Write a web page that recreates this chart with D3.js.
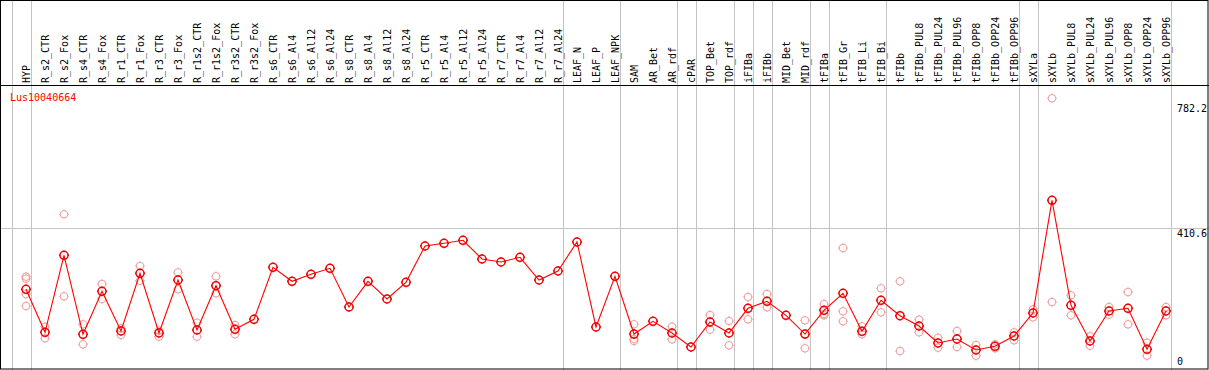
<!DOCTYPE html>
<html>
<head>
<meta charset="utf-8">
<script src="https://cdn.jsdelivr.net/npm/d3@7"></script>
<style>
  body { margin: 0; background: #fff; }
  svg text { font-family: "DejaVu Sans Mono", monospace; font-size: 10px; }
</style>
</head>
<body>
<div class="svg-content"></div>
<script>
const geneId = "Lus10040664";

const samples = ["HYP", "R_s2_CTR", "R_s2_Fox", "R_s4_CTR", "R_s4_Fox", "R_r1_CTR", "R_r1_Fox",
  "R_r3_CTR", "R_r3_Fox", "R_r1s2_CTR", "R_r1s2_Fox", "R_r3s2_CTR", "R_r3s2_Fox",
  "R_s6_CTR", "R_s6_Al4", "R_s6_Al12", "R_s6_Al24", "R_s8_CTR", "R_s8_Al4", "R_s8_Al12", "R_s8_Al24",
  "R_r5_CTR", "R_r5_Al4", "R_r5_Al12", "R_r5_Al24", "R_r7_CTR", "R_r7_Al4", "R_r7_Al12", "R_r7_Al24",
  "LEAF_N", "LEAF_P", "LEAF_NPK", "SAM", "AR_Bet", "AR_rdf", "cPAR", "TOP_Bet", "TOP_rdf",
  "iFIBa", "iFIBb", "MID_Bet", "MID_rdf", "tFIBa", "tFIB_Gr", "tFIB_Li", "tFIB_Bi", "tFIBb",
  "tFIBb_PUL8", "tFIBb_PUL24", "tFIBb_PUL96", "tFIBb_OPP8", "tFIBb_OPP24", "tFIBb_OPP96",
  "sXYLa", "sXYLb", "sXYLb_PUL8", "sXYLb_PUL24", "sXYLb_PUL96", "sXYLb_OPP8", "sXYLb_OPP24", "sXYLb_OPP96"];

// mean expression per sample
const means = [236.1, 113.2, 333.3, 107.5, 230.4, 116.9, 281.9, 111.2, 262.7, 119.8, 246.4, 121.8, 150.4,
  299.0, 259.0, 279.0, 296.2, 185.5, 259.0, 208.4, 256.1,
  359.9, 367.6, 376.2, 322.8, 314.2, 327.6, 262.7, 288.5,
  371.4, 128.4, 273.3, 108.3, 144.7, 111.2, 71.2, 142.7, 111.2,
  181.8, 201.8, 161.8, 108.3, 176.1, 224.7, 116.1, 204.7, 160.7,
  131.2, 82.6, 94.1, 62.6, 73.2, 102.6,
  168.4, 490.6, 190.4, 88.3, 174.1, 181.8, 64.6, 174.1];

// individual replicates per sample (empty where none are shown)
const replicates = [
  [272.2, 266.4, 222.7, 188.4], [129.2, 96.1], [450.5, 216.1], [136.1, 78.9], [251.3, 208.4],
  [124.6, 105.5], [302.7, 260.7], [117.8, 100.6], [284.7, 236.1], [140.7, 100.6], [273.3, 224.7],
  [134.1, 107.5], [],
  [], [], [], [], [], [], [], [],
  [], [], [], [], [], [], [], [],
  [], [], [], [136.1, 94.1, 88.3], [], [129.2, 93.2], [], [162.7, 120.6], [145.5, 76.0],
  [214.1, 150.4], [222.7, 184.7], [], [147.5, 67.5], [194.1, 165.5, 161.8], [354.2, 173.2, 144.7],
  [130.4, 107.5], [239.0, 170.4], [259.0, 59.7],
  [149.2, 113.2], [97.8, 69.2], [116.9, 71.2], [76.9, 46.3], [78.9, 67.5], [113.2, 90.3],
  [179.0, 156.1], [782.2, 199.8], [219.0, 161.8], [101.8, 74.9], [185.5, 163.5], [228.4, 136.1],
  [83.5, 46.3], [185.5, 161.8]];

// samples that start a new group (grey separator to their left)
const groupStarts = ["HYP", "R_s2_CTR", "LEAF_N", "SAM", "cPAR", "TOP_Bet", "iFIBa", "iFIBb",
  "MID_Bet", "tFIBa", "tFIB_Gr", "tFIBb", "sXYLa", "sXYLb"];

const yTicks = [0, 410.6, 782.2];
const gridValues = [410.6];

const width = 1209;
const height = 370;
const headerY = 85;
const step = 19;

const svg = d3.select(".svg-content")
              .append("svg")
              .attr("width", width)
              .attr("height", height);

const xScale = d3.scalePoint()
                 .domain(samples)
                 .range([26, 26 + step * (samples.length - 1)]);

const yScale = d3.scaleLinear()
                 .domain([0, 782.2])
                 .range([371.9, 98.3]);

const plotRight = xScale(samples[samples.length - 1]) + step - 14.5;

// grid lines
svg.append("g")
   .selectAll("line")
   .data(groupStarts)
   .enter()
   .append("line")
   .attr("x1", d => Math.round(xScale(d) - 14.5) + 0.5)
   .attr("x2", d => Math.round(xScale(d) - 14.5) + 0.5)
   .attr("y1", 0)
   .attr("y2", height)
   .attr("stroke", "#c4c4c4");

svg.append("line")
   .attr("x1", Math.round(plotRight) + 0.5)
   .attr("x2", Math.round(plotRight) + 0.5)
   .attr("y1", 0)
   .attr("y2", height)
   .attr("stroke", "#c4c4c4");

svg.append("g")
   .selectAll("line")
   .data(gridValues)
   .enter()
   .append("line")
   .attr("x1", 0)
   .attr("x2", width)
   .attr("y1", d => Math.round(yScale(d)) + 0.5)
   .attr("y2", d => Math.round(yScale(d)) + 0.5)
   .attr("stroke", "#c4c4c4");

// frame and header separator
svg.append("rect")
   .attr("x", 0.5)
   .attr("y", 0.5)
   .attr("width", width - 1.5)
   .attr("height", height - 1.5)
   .attr("fill", "none")
   .attr("stroke", "#000");

svg.append("line")
   .attr("x1", 0)
   .attr("x2", width)
   .attr("y1", headerY + 0.5)
   .attr("y2", headerY + 0.5)
   .attr("stroke", "#000");

// sample labels
svg.append("g")
   .selectAll("text")
   .data(samples)
   .enter()
   .append("text")
   .attr("transform", d => "translate(" + (xScale(d) + 3.5) + "," + (headerY - 2) + ") rotate(-90)")
   .attr("fill", "#000")
   .text(d => d);

// y labels
svg.append("g")
   .selectAll("text")
   .data(yTicks)
   .enter()
   .append("text")
   .attr("x", plotRight + 6.5)
   .attr("y", d => Math.min(Math.max(yScale(d) + 9, 112), 365))
   .attr("fill", "#000")
   .text(d => d);

svg.append("text")
   .attr("x", 10)
   .attr("y", 101)
   .attr("fill", "#ff0000")
   .text(geneId);

// marker: ring with four small nubs
function marker(r) {
  const p = d3.path();
  p.moveTo(r, 0);
  p.arc(0, 0, r, 0, 2 * Math.PI);
  p.moveTo(0, -r); p.lineTo(0, -r - 1);
  p.moveTo(0, r); p.lineTo(0, r + 1);
  p.moveTo(-r, 0); p.lineTo(-r - 1, 0);
  p.moveTo(r, 0); p.lineTo(r + 1, 0);
  return p.toString();
}

const repPoints = [];
replicates.forEach((reps, i) => {
  reps.forEach(v => repPoints.push({ sample: samples[i], value: v }));
});

svg.append("g")
   .selectAll("path")
   .data(repPoints)
   .enter()
   .append("path")
   .attr("transform", d => "translate(" + xScale(d.sample) + "," + yScale(d.value) + ")")
   .attr("d", marker(3.8))
   .attr("fill", "none")
   .attr("stroke", "#f09a9a")
   .attr("stroke-width", 1);

const line = d3.line()
               .x((d, i) => xScale(samples[i]))
               .y(d => yScale(d));

svg.append("path")
   .datum(means)
   .attr("d", line)
   .attr("fill", "none")
   .attr("stroke", "#ff0000")
   .attr("stroke-width", 1.1);

svg.append("g")
   .selectAll("path")
   .data(means)
   .enter()
   .append("path")
   .attr("transform", (d, i) => "translate(" + xScale(samples[i]) + "," + yScale(d) + ")")
   .attr("d", marker(4))
   .attr("fill", "none")
   .attr("stroke", "#ee0000")
   .attr("stroke-width", 1.5);
</script>
</body>
</html>
